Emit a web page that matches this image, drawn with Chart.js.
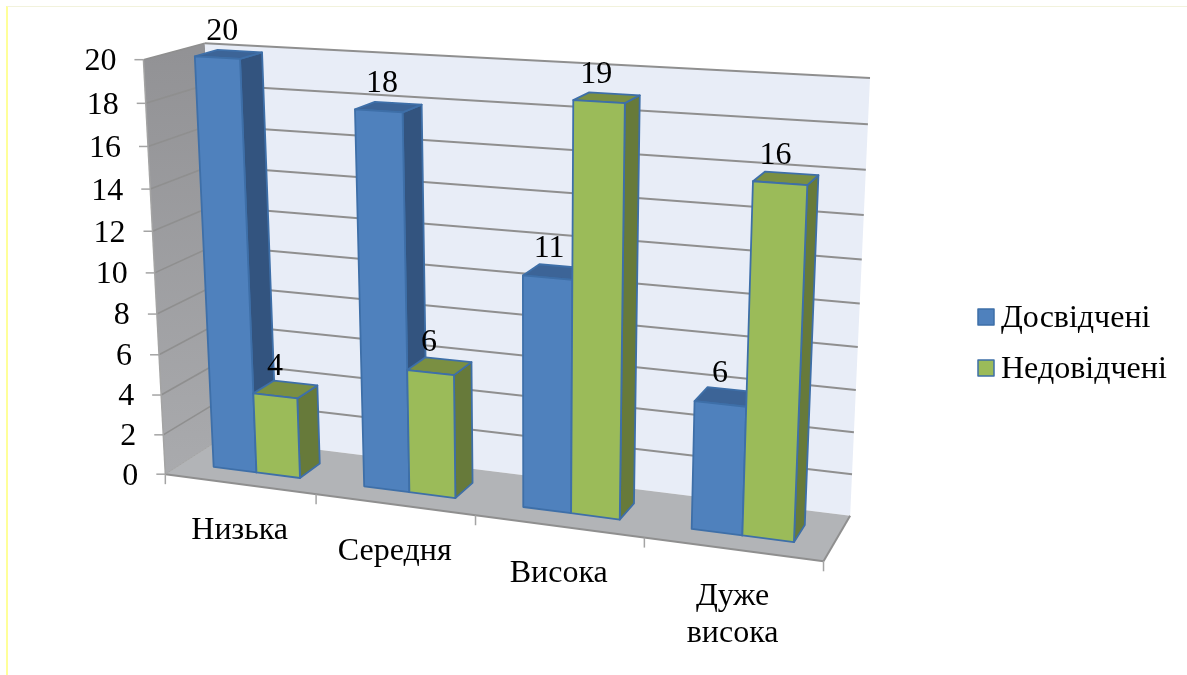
<!DOCTYPE html>
<html lang="uk">
<head>
<meta charset="utf-8">
<title>Досвідчені / Недовідчені</title>
<script src="https://cdn.jsdelivr.net/npm/chart.js@4/dist/chart.umd.min.js"></script>
<style>
    html, body { margin: 0; background: #fff; }
    #wrap { position: relative; width: 1187px; height: 675px; overflow: hidden; }
    #frame { position: absolute; left: 6px; top: 6px; right: -2px; bottom: -2px;
             border-left: 2px solid #ffff99; border-top: 1px solid #f2f2dc; }
</style>
</head>
<body>
<div id="wrap">
    <div id="frame"></div>
    <canvas id="chart-bars"></canvas>
</div>
<script>
// Datos del gráfico
const categorias = ['Низька', 'Середня', 'Висока', ['Дуже', 'висока']];
const experimentados = [20, 18, 11, 6];
const inexperimentados = [4, 6, 19, 16];
const nombreExperimentados = 'Досвідчені';
const nombreInexperimentados = 'Недовідчені';

const FUENTE = '"Liberation Serif", "Times New Roman", serif';
const TAM_FUENTE = 32;
const VALOR_MAX = 20;

// Profundidad de las barras dentro del suelo (0 = frente, 1 = pared del fondo)
const Z_FRENTE = 0.3;
const Z_FONDO = 0.68;

// Colores por serie: frente, lateral, tapa
const caras = [
    { frente: '#4f81bd', lado: '#33547f', tapa: '#3c6497', dxValor: -6.5 },
    { frente: '#9bbb59', lado: '#677a3a', tapa: '#7a8f42', dxValor: -10.5 }
];
const colorBorde = '#3e6fa8';
const colorRejilla = '#8f8f8f';

// Esquinas de la caja 3D: [u, v, z, x, y]. La cámara se resuelve a partir de ellas.
const anclas = [
    [0, 0, 0, 165, 474], [0, 1, 0, 144, 60], [0, 1, 1, 204, 43], [0, 0, 1, 223, 438],
    [1, 1, 1, 870, 78], [1, 0, 1, 850, 515], [1, 0, 0, 824, 561],
    [0.25, 0, 0, 316, 495], [0.5, 0, 0, 475, 515], [0.75, 0, 0, 644, 538],
    [0, 0.5, 0, 155, 272], [1, 0.5, 1, 860, 304]
];

// Mínimos cuadrados con eliminación de Gauss para la matriz de proyección
function resolverCamara(puntos) {
    const filas = [];
    const destino = [];
    puntos.forEach(([u, v, z, px, py]) => {
        const x = px / 1000;
        const y = py / 1000;
        filas.push([u, v, z, 1, 0, 0, 0, 0, -x * u, -x * v, -x * z]);
        destino.push(x);
        filas.push([0, 0, 0, 0, u, v, z, 1, -y * u, -y * v, -y * z]);
        destino.push(y);
    });
    const n = 11;
    const m = [];
    for (let i = 0; i < n; i++) {
        m.push(new Array(n + 1).fill(0));
        filas.forEach((f, k) => {
            for (let j = 0; j < n; j++) m[i][j] += f[i] * f[j];
            m[i][n] += f[i] * destino[k];
        });
    }
    for (let i = 0; i < n; i++) {
        let p = i;
        for (let k = i + 1; k < n; k++) {
            if (Math.abs(m[k][i]) > Math.abs(m[p][i])) p = k;
        }
        [m[i], m[p]] = [m[p], m[i]];
        for (let k = 0; k < n; k++) {
            if (k === i) continue;
            const f = m[k][i] / m[i][i];
            for (let j = i; j <= n; j++) m[k][j] -= f * m[i][j];
        }
    }
    return m.map((fila, i) => fila[n] / fila[i]);
}

const cam = resolverCamara(anclas);

function proyectar(u, v, z) {
    const d = cam[8] * u + cam[9] * v + cam[10] * z + 1;
    return {
        x: 1000 * (cam[0] * u + cam[1] * v + cam[2] * z + cam[3]) / d,
        y: 1000 * (cam[4] * u + cam[5] * v + cam[6] * z + cam[7]) / d
    };
}

function poligono(ctx, puntos, relleno, borde, ancho) {
    ctx.beginPath();
    puntos.forEach((p, i) => (i ? ctx.lineTo(p.x, p.y) : ctx.moveTo(p.x, p.y)));
    ctx.closePath();
    ctx.fillStyle = relleno;
    ctx.fill();
    if (borde) {
        ctx.strokeStyle = borde;
        ctx.lineWidth = ancho;
        ctx.lineJoin = 'round';
        ctx.stroke();
    }
}

function linea(ctx, a, b, color, ancho) {
    ctx.beginPath();
    ctx.moveTo(a.x, a.y);
    ctx.lineTo(b.x, b.y);
    ctx.strokeStyle = color;
    ctx.lineWidth = ancho;
    ctx.stroke();
}

function dibujarCaja(ctx, scaleY) {
    const ticks = scaleY.ticks;
    const frac = t => t.value / VALOR_MAX;

    // Pared izquierda, pared del fondo y suelo
    const izq = ctx.createLinearGradient(0, 50, 0, 470);
    izq.addColorStop(0, '#929295');
    izq.addColorStop(1, '#a9aaad');
    poligono(ctx, [proyectar(0, 0, 0), proyectar(0, 1, 0), proyectar(0, 1, 1), proyectar(0, 0, 1)], izq);
    poligono(ctx, [proyectar(0, 0, 1), proyectar(0, 1, 1), proyectar(1, 1, 1), proyectar(1, 0, 1)], '#e8edf7');
    poligono(ctx, [proyectar(0, 0, 0), proyectar(0, 0, 1), proyectar(1, 0, 1), proyectar(1, 0, 0)], '#b2b4b7');

    // Rejilla horizontal sobre las dos paredes
    ticks.forEach(t => {
        const v = frac(t);
        if (v > 0) {
            linea(ctx, proyectar(0, v, 0), proyectar(0, v, 1), colorRejilla, 1.6);
            linea(ctx, proyectar(0, v, 1), proyectar(1, v, 1), colorRejilla, 2);
        }
    });

    // Bordes del eje
    linea(ctx, proyectar(0, 0, 0), proyectar(0, 1, 0), '#a4a4a4', 1.5);
    linea(ctx, proyectar(0, 0, 0), proyectar(1, 0, 0), colorRejilla, 2);
    linea(ctx, proyectar(1, 0, 0), proyectar(1, 0, 1), colorRejilla, 2);
    linea(ctx, proyectar(0, 0, 0), proyectar(0, 0, 1), '#a4a4a4', 1);

    // Marcas y etiquetas del eje Y
    ctx.font = TAM_FUENTE + 'px ' + FUENTE;
    ctx.textAlign = 'right';
    ctx.textBaseline = 'middle';
    ticks.forEach(t => {
        const p = proyectar(0, frac(t), 0);
        linea(ctx, { x: p.x - 9, y: p.y }, p, '#a4a4a4', 1.5);
        ctx.fillStyle = '#000';
        ctx.fillText(t.label, p.x - 27, p.y + 2);
    });

    // Marcas del eje X, en los límites entre categorías
    const n = categorias.length;
    for (let i = 0; i <= n; i++) {
        const p = proyectar(i / n, 0, 0);
        linea(ctx, p, { x: p.x, y: p.y + 10 }, '#a4a4a4', 1.5);
    }

    // Etiquetas del eje X
    ctx.textAlign = 'center';
    ctx.textBaseline = 'middle';
    ctx.fillStyle = '#000';
    categorias.forEach((c, i) => {
        const p = proyectar((i + 0.5) / n, 0, 0);
        const lineas = Array.isArray(c) ? c : [c];
        lineas.forEach((texto, k) => {
            ctx.fillText(texto, p.x, p.y + 47 + k * 37);
        });
    });
}

function dibujarBarra(ctx, u0, u1, v, color) {
    const a = proyectar(u0, 0, Z_FRENTE);
    const b = proyectar(u1, 0, Z_FRENTE);
    const c = proyectar(u1, v, Z_FRENTE);
    const d = proyectar(u0, v, Z_FRENTE);
    const e = proyectar(u1, 0, Z_FONDO);
    const f = proyectar(u1, v, Z_FONDO);
    const g = proyectar(u0, v, Z_FONDO);
    poligono(ctx, [b, e, f, c], color.lado, colorBorde, 1.8);
    poligono(ctx, [d, c, f, g], color.tapa, colorBorde, 1.8);
    poligono(ctx, [a, b, c, d], color.frente, colorBorde, 1.8);
}

// Leyenda con la muestra pegada al texto
function dibujarLeyenda(chart) {
    const ctx = chart.ctx;
    ctx.font = TAM_FUENTE + 'px ' + FUENTE;
    ctx.textAlign = 'left';
    ctx.textBaseline = 'alphabetic';
    chart.data.datasets.forEach((ds, s) => {
        const base = 327 + s * 51;
        ctx.fillStyle = ds.backgroundColor;
        ctx.strokeStyle = ds.borderColor;
        ctx.lineWidth = 1.5;
        ctx.fillRect(978, base - 18, 16, 16);
        ctx.strokeRect(978, base - 18, 16, 16);
        ctx.fillStyle = '#000';
        ctx.fillText(ds.label, 1001, base);
    });
}

// Sustituye el dibujo plano de las barras por la vista en perspectiva
const perspectiva = {
    id: 'perspectiva',
    beforeDatasetsDraw(chart) {
        const ctx = chart.ctx;
        const area = chart.chartArea;
        const scaleY = chart.scales.y;
        ctx.save();
        dibujarCaja(ctx, scaleY);

        const etiquetas = [];
        const nCat = categorias.length;
        for (let i = 0; i < nCat; i++) {
            chart.data.datasets.forEach((ds, s) => {
                const barra = chart.getDatasetMeta(s).data[i];
                const u0 = (barra.x - barra.width / 2 - area.left) / area.width;
                const u1 = (barra.x + barra.width / 2 - area.left) / area.width;
                const v = scaleY.getValueForPixel(barra.y) / VALOR_MAX;
                dibujarBarra(ctx, u0, u1, v, caras[s]);
                const tapa = proyectar((u0 + u1) / 2, v, (Z_FRENTE + Z_FONDO) / 2);
                etiquetas.push({ texto: String(ds.data[i]), x: tapa.x + caras[s].dxValor, y: tapa.y - 23 });
            });
        }

        // Valores encima de cada barra
        ctx.font = TAM_FUENTE + 'px ' + FUENTE;
        ctx.textAlign = 'center';
        ctx.textBaseline = 'middle';
        ctx.fillStyle = '#000';
        etiquetas.forEach(e => ctx.fillText(e.texto, e.x, e.y));

        dibujarLeyenda(chart);
        ctx.restore();
        return false;
    }
};

document.addEventListener('DOMContentLoaded', function() {
    const ctx = document.getElementById('chart-bars').getContext('2d');
    new Chart(ctx, {
        type: 'bar',
        data: {
            labels: categorias,
            datasets: [
                {
                    label: nombreExperimentados,
                    data: experimentados,
                    backgroundColor: caras[0].frente,
                    borderColor: colorBorde,
                    categoryPercentage: 0.58,
                    barPercentage: 1
                },
                {
                    label: nombreInexperimentados,
                    data: inexperimentados,
                    backgroundColor: caras[1].frente,
                    borderColor: colorBorde,
                    categoryPercentage: 0.58,
                    barPercentage: 1
                }
            ]
        },
        options: {
            responsive: true,
            maintainAspectRatio: false,
            animation: false,
            plugins: {
                legend: { display: false },
                tooltip: { enabled: false }
            },
            scales: {
                x: { display: false },
                y: {
                    display: false,
                    min: 0,
                    max: VALOR_MAX,
                    ticks: { stepSize: 2 }
                }
            }
        },
        plugins: [perspectiva]
    });
});
</script>
</body>
</html>
